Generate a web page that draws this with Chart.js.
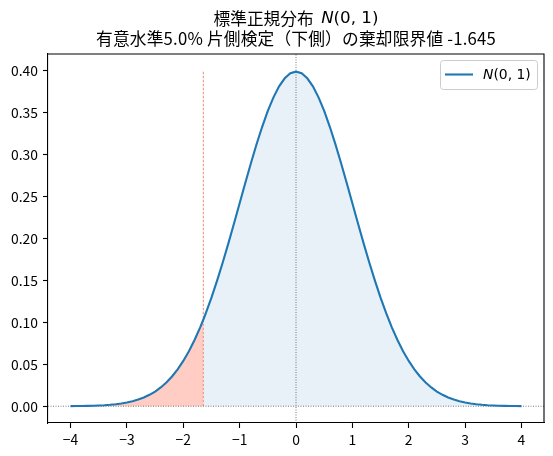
<!DOCTYPE html>
<html>

<head>
    <meta charset="utf-8" />
    <title>標準正規分布 N(0,1)</title>
    <style>
        body {
            margin: 0;
            background: #fff;
        }

        .chart-container {
            width: 553px;
            height: 456px;
        }
    </style>
    <script src="https://cdn.jsdelivr.net/npm/chart.js"></script>
</head>

<body>
    <div class="chart-container">
        <canvas id="chartNormal" width="553" height="456"></canvas>
    </div>

    <script>
        // values (density of N(0,1))
        const xs = [
            -4.0, -3.9, -3.8, -3.7, -3.6, -3.5, -3.4, -3.3, -3.2, -3.1,
            -3.0, -2.9, -2.8, -2.7, -2.6, -2.5, -2.4, -2.3, -2.2, -2.1,
            -2.0, -1.9, -1.8, -1.7, -1.645, -1.6, -1.5, -1.4, -1.3, -1.2, -1.1,
            -1.0, -0.9, -0.8, -0.7, -0.6, -0.5, -0.4, -0.3, -0.2, -0.1,
            0.0, 0.1, 0.2, 0.3, 0.4, 0.5, 0.6, 0.7, 0.8, 0.9,
            1.0, 1.1, 1.2, 1.3, 1.4, 1.5, 1.6, 1.7, 1.8, 1.9,
            2.0, 2.1, 2.2, 2.3, 2.4, 2.5, 2.6, 2.7, 2.8, 2.9,
            3.0, 3.1, 3.2, 3.3, 3.4, 3.5, 3.6, 3.7, 3.8, 3.9, 4.0
        ];
        const density = [
            0.0001, 0.0002, 0.0003, 0.0004, 0.0006, 0.0009, 0.0012, 0.0017, 0.0024, 0.0033,
            0.0044, 0.0060, 0.0079, 0.0104, 0.0136, 0.0175, 0.0224, 0.0283, 0.0355, 0.0440,
            0.0540, 0.0656, 0.0790, 0.0940, 0.1031, 0.1109, 0.1295, 0.1497, 0.1714, 0.1942, 0.2179,
            0.2420, 0.2661, 0.2897, 0.3123, 0.3332, 0.3521, 0.3683, 0.3814, 0.3910, 0.3970,
            0.3989, 0.3970, 0.3910, 0.3814, 0.3683, 0.3521, 0.3332, 0.3123, 0.2897, 0.2661,
            0.2420, 0.2179, 0.1942, 0.1714, 0.1497, 0.1295, 0.1109, 0.0940, 0.0790, 0.0656,
            0.0540, 0.0440, 0.0355, 0.0283, 0.0224, 0.0175, 0.0136, 0.0104, 0.0079, 0.0060,
            0.0044, 0.0033, 0.0024, 0.0017, 0.0012, 0.0009, 0.0006, 0.0004, 0.0003, 0.0002, 0.0001
        ];
        const critical = -1.645;
        const criticalTop = 0.40;
        const xTicks = [-4, -3, -2, -1, 0, 1, 2, 3, 4];
        const yTicks = [0.00, 0.05, 0.10, 0.15, 0.20, 0.25, 0.30, 0.35, 0.40];
        const xRange = [-4.4, 4.4];
        const yRange = [-0.02, 0.42];
        const titleLine1 = ['標準正規分布  ', 'N', '(0, 1)'];
        const titleLine2 = '有意水準5.0% 片側検定（下側）の棄却限界値 -1.645';
        const legendLabel = ['N', '(0, 1)'];

        const curve = xs.map((x, i) => ({ x, y: density[i] }));
        const lowerTail = curve.filter(p => p.x <= critical);
        const upperPart = curve.filter(p => p.x >= critical);

        const CJK = '"Noto Sans CJK JP", sans-serif';
        const MATH = '"DejaVu Sans", sans-serif';
        const C0 = '#1f77b4';

        function drawPieces(ctx, pieces, cx, cy) {
            let total = 0;
            pieces.forEach(p => { ctx.font = p.f; p.w = ctx.measureText(p.t).width; total += p.w; });
            let x = cx - total / 2;
            pieces.forEach(p => { ctx.font = p.f; ctx.fillText(p.t, x, cy); x += p.w; });
        }

        const decorations = {
            id: 'decorations',
            afterDatasetsDraw(chart) {
                const { ctx, chartArea: a } = chart;
                ctx.save();
                // top and right spines
                ctx.strokeStyle = '#000';
                ctx.lineWidth = 1.1;
                ctx.beginPath();
                ctx.moveTo(a.left, a.top);
                ctx.lineTo(a.right, a.top);
                ctx.lineTo(a.right, a.bottom);
                ctx.stroke();

                // legend
                const bx = 440, by = 60, bw = 97, bh = 29;
                ctx.fillStyle = 'rgba(255,255,255,0.8)';
                ctx.strokeStyle = '#cccccc';
                ctx.lineWidth = 1;
                ctx.beginPath();
                ctx.roundRect(bx + 0.5, by + 0.5, bw, bh, 3);
                ctx.fill();
                ctx.stroke();
                ctx.strokeStyle = C0;
                ctx.lineWidth = 2.1;
                ctx.beginPath();
                ctx.moveTo(445, 74.5);
                ctx.lineTo(473, 74.5);
                ctx.stroke();
                ctx.fillStyle = '#000';
                ctx.textBaseline = 'middle';
                ctx.font = 'italic 13.9px ' + MATH;
                ctx.fillText(legendLabel[0], 483, 75);
                const nw = ctx.measureText(legendLabel[0]).width;
                ctx.font = '13.9px ' + MATH;
                ctx.fillText(legendLabel[1], 483 + nw, 75);

                // title
                const cx = (a.left + a.right) / 2;
                drawPieces(ctx, [
                    { t: titleLine1[0], f: '16.7px ' + CJK },
                    { t: titleLine1[1], f: 'italic 16.7px ' + MATH },
                    { t: titleLine1[2], f: '16.7px ' + MATH }
                ], cx, 19);
                ctx.letterSpacing = '0.2px';
                drawPieces(ctx, [{ t: titleLine2, f: '16.7px ' + CJK }], cx, 39);
                ctx.restore();
            }
        };

        const ctx = document.getElementById('chartNormal').getContext('2d');
        new Chart(ctx, {
            type: 'line',
            data: {
                datasets: [
                    {
                        label: 'N(0, 1)',
                        data: curve,
                        borderColor: C0,
                        borderWidth: 2.1,
                        pointRadius: 0,
                        fill: false
                    },
                    {
                        label: 'critical',
                        data: [{ x: critical, y: 0 }, { x: critical, y: criticalTop }],
                        borderColor: 'rgb(232,112,82)',
                        borderWidth: 0.8,
                        borderDash: [2.5, 1.5],
                        pointRadius: 0,
                        fill: false
                    },
                    {
                        label: 'x0',
                        data: [{ x: 0, y: yRange[0] }, { x: 0, y: yRange[1] }],
                        borderColor: '#444',
                        borderWidth: 0.7,
                        borderDash: [1, 1.5],
                        pointRadius: 0,
                        fill: false
                    },
                    {
                        label: 'y0',
                        data: [{ x: xRange[0], y: 0 }, { x: xRange[1], y: 0 }],
                        borderColor: '#444',
                        borderWidth: 0.7,
                        borderDash: [1, 1.5],
                        pointRadius: 0,
                        fill: false
                    },
                    {
                        label: 'lower tail',
                        data: lowerTail,
                        borderWidth: 0,
                        pointRadius: 0,
                        backgroundColor: 'rgba(255,99,71,0.32)',
                        fill: 'origin'
                    },
                    {
                        label: 'acceptance',
                        data: upperPart,
                        borderWidth: 0,
                        pointRadius: 0,
                        backgroundColor: 'rgba(31,119,180,0.1)',
                        fill: 'origin'
                    }
                ]
            },
            options: {
                responsive: false,
                animation: false,
                layout: { padding: { top: 54, right: 9, bottom: 0, left: 0 } },
                scales: {
                    x: {
                        type: 'linear',
                        min: xRange[0],
                        max: xRange[1],
                        afterBuildTicks: s => { s.ticks = xTicks.map(v => ({ value: v })); },
                        afterFit: s => { s.height = 33; },
                        grid: { drawOnChartArea: false, drawTicks: true, tickLength: 5, tickWidth: 1.1, tickColor: '#000' },
                        border: { display: true, color: '#000', width: 1.1 },
                        ticks: {
                            padding: 3,
                            color: '#000',
                            maxRotation: 0,
                            font: { family: CJK, size: 13.9 },
                            callback: v => String(v).replace('-', '\u2212')
                        }
                    },
                    y: {
                        min: yRange[0],
                        max: yRange[1],
                        afterBuildTicks: s => { s.ticks = yTicks.map(v => ({ value: v })); },
                        afterFit: s => { s.width = 48; },
                        grid: { drawOnChartArea: false, drawTicks: true, tickLength: 5, tickWidth: 1.1, tickColor: '#000' },
                        border: { display: true, color: '#000', width: 1.1 },
                        ticks: {
                            padding: 5,
                            color: '#000',
                            font: { family: CJK, size: 13.9 },
                            callback: v => v.toFixed(2)
                        }
                    }
                },
                plugins: {
                    legend: { display: false },
                    title: { display: false },
                    tooltip: { enabled: false }
                }
            },
            plugins: [decorations]
        });
    </script>
</body>

</html>
